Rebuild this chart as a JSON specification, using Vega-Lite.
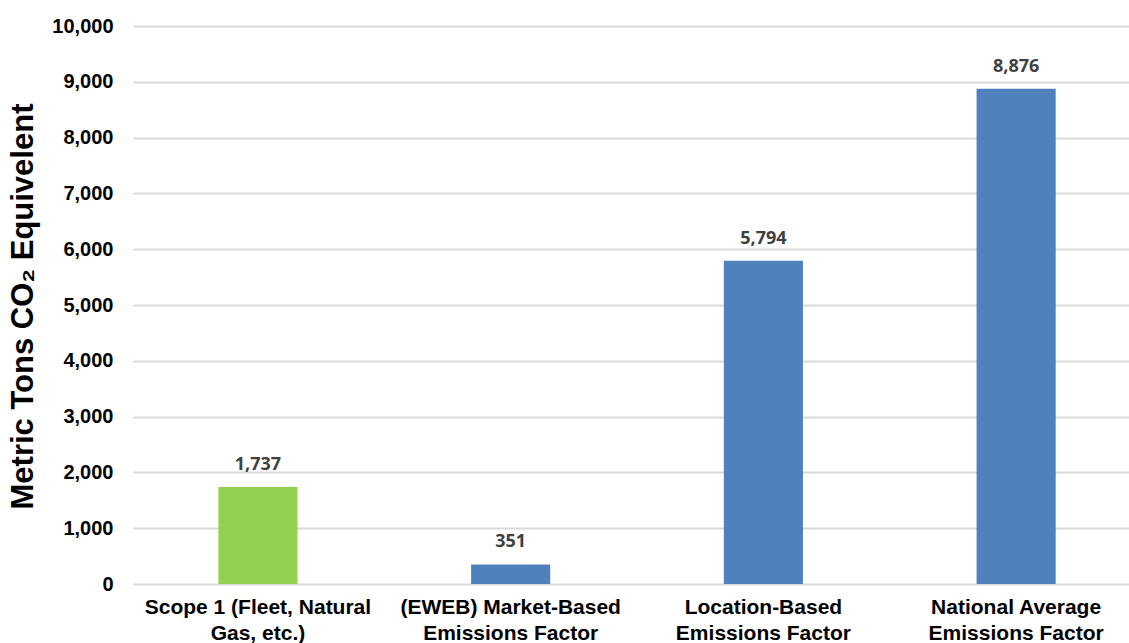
{
  "$schema": "https://vega.github.io/schema/vega-lite/v6.json",
  "autosize": "none",
  "width": 996,
  "height": 558,
  "padding": {"left": 133, "top": 26, "right": 0, "bottom": 59},
  "background": "white",
  "data": {
    "values": [
      {"category": "Scope 1 (Fleet, Natural|Gas, etc.)", "value": 1737, "type": "scope1"},
      {"category": "(EWEB) Market-Based|Emissions Factor", "value": 351, "type": "scope2"},
      {"category": "Location-Based|Emissions Factor", "value": 5794, "type": "scope2"},
      {"category": "National Average|Emissions Factor", "value": 8876, "type": "scope2"}
    ]
  },
  "encoding": {
    "x": {
      "field": "category",
      "type": "nominal",
      "sort": null,
      "scale": {"paddingInner": 0.687, "paddingOuter": 0.314, "align": 0.538},
      "axis": {
        "title": null,
        "labelAngle": 0,
        "labelExpr": "split(datum.label, '|')",
        "labelFont": "Liberation Sans",
        "labelFontWeight": "bold",
        "labelFontSize": 21,
        "labelColor": "#000000",
        "labelLineHeight": 26,
        "labelBaseline": "top",
        "labelPadding": 12,
        "labelLimit": 400,
        "ticks": false,
        "domain": false,
        "grid": false
      }
    },
    "y": {
      "field": "value",
      "type": "quantitative",
      "scale": {"domain": [0, 10000], "nice": false},
      "axis": {
        "values": [0, 1000, 2000, 3000, 4000, 5000, 6000, 7000, 8000, 9000, 10000],
        "format": ",d",
        "title": "Metric Tons CO₂ Equivelent",
        "titleFont": "Liberation Sans",
        "titleFontWeight": "bold",
        "titleFontSize": 31,
        "titleColor": "#000000",
        "titleAngle": -90,
        "titleX": -110,
        "titleY": 280,
        "titleAlign": "center",
        "titleBaseline": "middle",
        "labelFont": "Liberation Sans",
        "labelFontWeight": "bold",
        "labelFontSize": 20,
        "labelColor": "#000000",
        "labelPadding": 20,
        "ticks": false,
        "domain": false,
        "grid": true,
        "gridColor": "#D9D9D9",
        "gridWidth": 2
      }
    }
  },
  "layer": [
    {
      "mark": {"type": "bar"},
      "encoding": {
        "color": {
          "field": "type",
          "type": "nominal",
          "scale": {"domain": ["scope1", "scope2"], "range": ["#92D050", "#4F81BD"]},
          "legend": null
        }
      }
    },
    {
      "mark": {
        "type": "text",
        "baseline": "bottom",
        "dy": -13,
        "font": "Open Sans",
        "fontWeight": "bold",
        "fontSize": 18,
        "color": "#404040"
      },
      "encoding": {
        "text": {"field": "value", "type": "quantitative", "format": ",d"}
      }
    }
  ],
  "config": {"view": {"stroke": null}}
}
